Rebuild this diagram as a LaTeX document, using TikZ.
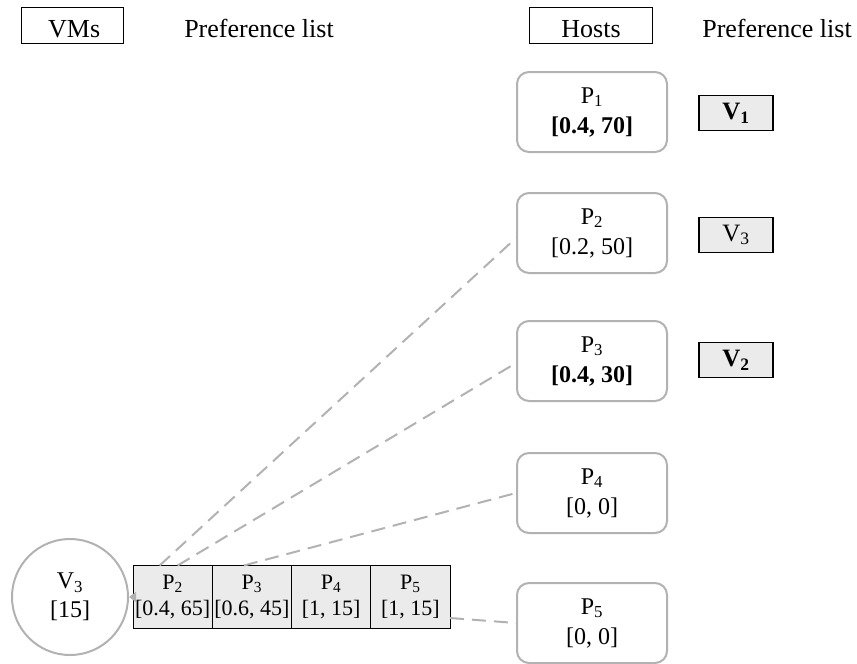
\documentclass[tikz,border=0pt]{standalone}
\usepackage{fontspec}
\setmainfont{Liberation Serif}
\usetikzlibrary{arrows.meta, positioning, calc}

\begin{document}
\begin{tikzpicture}[x=1pt, y=-1pt, >=Stealth,
  hdr/.style={draw, line width=0.8pt, minimum width=102pt, minimum height=36pt,
              inner sep=0pt, text height=24pt, text depth=0pt,
              font=\fontsize{26}{28}\selectfont},
  title/.style={anchor=base, font=\fontsize{26}{28}\selectfont},
  host/.style={draw=black!30, line width=2pt, rounded corners=12pt, align=center,
               minimum width=150pt, minimum height=80pt, inner sep=0pt,
               font=\fontsize{24}{30}\selectfont},
  pref/.style={draw, line width=1.2pt, fill=black!8, minimum width=74pt,
               minimum height=35pt, inner sep=0pt, font=\fontsize{25}{27}\selectfont},
  cell/.style={draw, line width=1pt, fill=black!8, align=center, outer sep=0pt,
               minimum width=79.25pt, minimum height=63pt, inner sep=0pt,
               font=\fontsize{22}{26}\selectfont},
  link/.style={draw=black!30, line width=2pt, dash pattern=on 14pt off 8pt}]

  \useasboundingbox (0,0) rectangle (857,664);

  % Headers
  \node[hdr] (vms) at (72,25) {\,VMs};
  \node[title] (vpl) at (259,37) {Preference list};
  \node[hdr, minimum width=123pt] (hosts) at (591,25) {Hosts};
  \node[title] (hpl) at (777,37) {Preference list};

  % Hosts
  \node[host] (h1) at (592,112) {P\textsubscript{1}\\\textbf{[0.4, 70]}};
  \node[host] (h2) at (592,233) {P\textsubscript{2}\\{}[0.2, 50]};
  \node[host] (h3) at (592,361) {P\textsubscript{3}\\\textbf{[0.4, 30]}};
  \node[host] (h4) at (592,493) {P\textsubscript{4}\\{}[0, 0]};
  \node[host] (h5) at (592,623) {P\textsubscript{5}\\{}[0, 0]};

  % Host preference lists
  \node[pref] (p1) at (736,113) {\textbf{V\textsubscript{1}}};
  \node[pref] (p2) at (736,235) {V\textsubscript{3}};
  \node[pref] (p3) at (736,360) {\textbf{V\textsubscript{2}}};

  % VM and its preference list
  \node[circle, draw=black!30, line width=2pt, minimum size=116pt, inner sep=0pt,
        align=center, font=\fontsize{24}{29}\selectfont] (v3) at (70,597)
        {V\textsubscript{3}\\{}[15]};
  \node[cell, anchor=west] (c2) at (133,597) {P\textsubscript{2}\\{}[0.4, 65]};
  \node[cell, right=0pt of c2] (c3) {P\textsubscript{3}\\{}[0.6, 45]};
  \node[cell, right=0pt of c3] (c4) {P\textsubscript{4}\\{}[1, 15]};
  \node[cell, right=0pt of c4] (c5) {P\textsubscript{5}\\{}[1, 15]};

  % Links
  \draw[-{Triangle[length=7pt, width=10pt]}, draw=black!30, fill=black!30,
        line width=1pt] (c2.west) -- (v3.east);
  \draw[link] ([xshift=-13pt]c2.north) -- ($(h2.west)+(0,5)$);
  \draw[link] ([xshift=5pt]c2.north) -- ($(h3.west)+(0,2)$);
  \draw[link] ([xshift=-8pt]c3.north) -- (h4.west);
  \draw[link] ($(c5.east)+(0,21)$) -- (h5.west);
\end{tikzpicture}
\end{document}
